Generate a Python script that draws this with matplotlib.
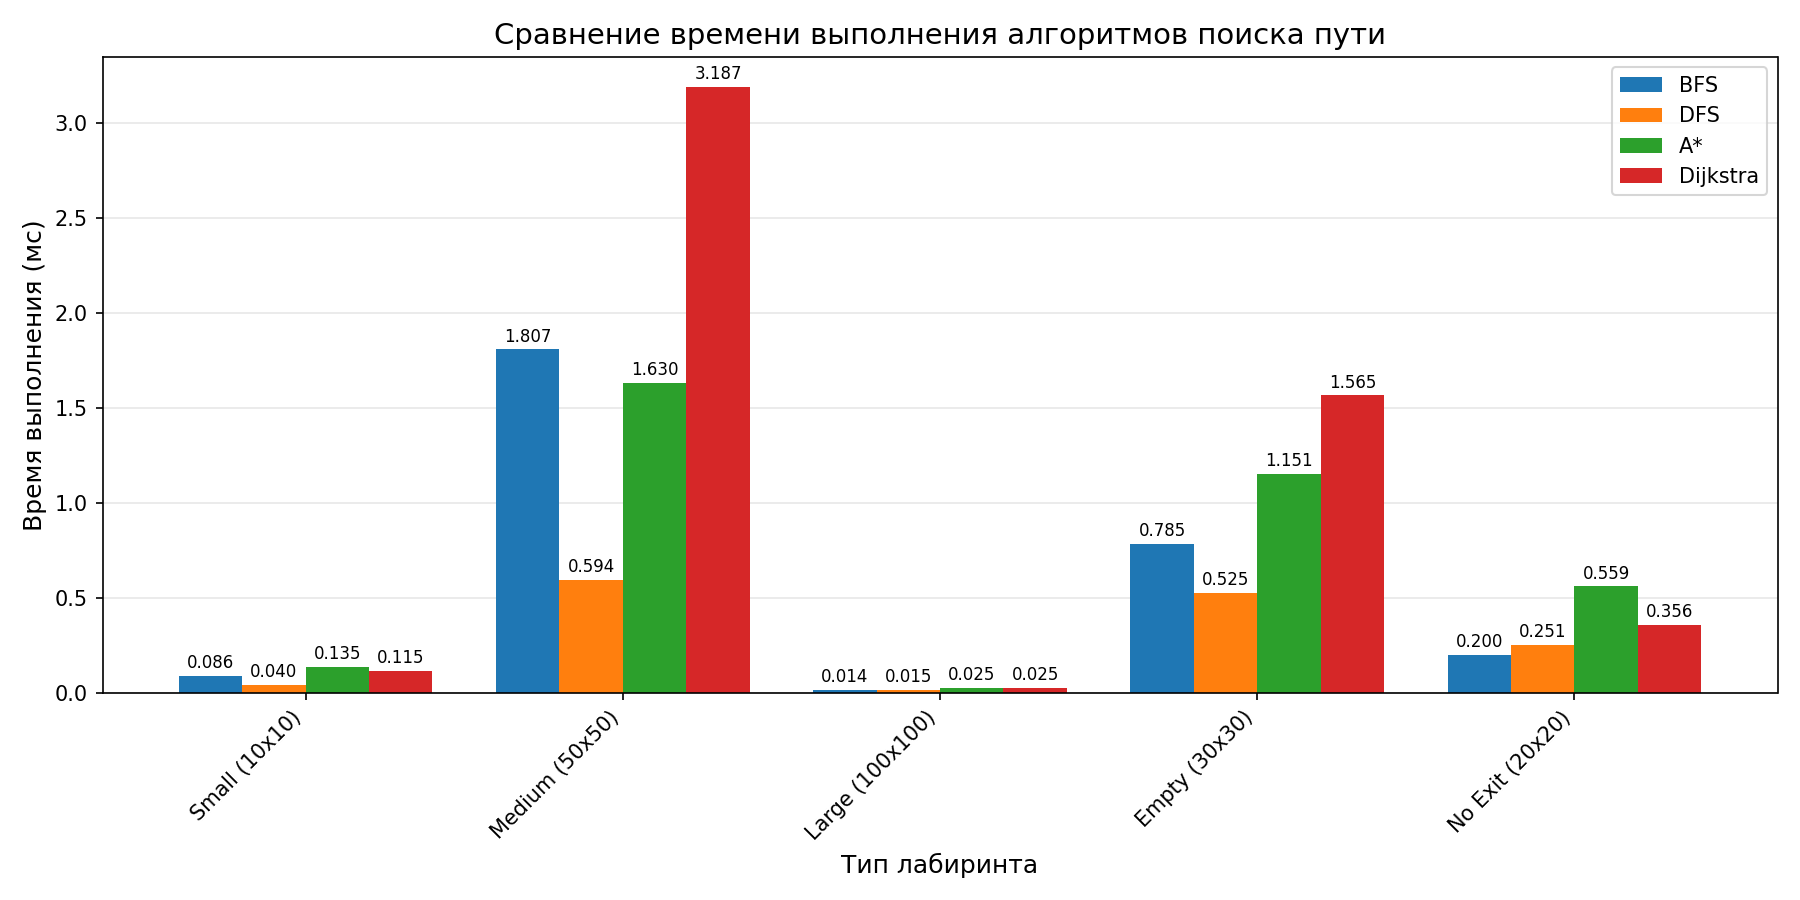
import matplotlib
matplotlib.use("Agg")
import matplotlib.pyplot as plt
import numpy as np

mazes = ["Small (10x10)", "Medium (50x50)", "Large (100x100)", "Empty (30x30)", "No Exit (20x20)"]
algorithms = ["BFS", "DFS", "A*", "Dijkstra"]
bfs_ms = [0.086, 1.807, 0.014, 0.785, 0.200]
dfs_ms = [0.040, 0.594, 0.015, 0.525, 0.251]
astar_ms = [0.135, 1.630, 0.025, 1.151, 0.559]
dijkstra_ms = [0.115, 3.187, 0.025, 1.565, 0.356]

series = [bfs_ms, dfs_ms, astar_ms, dijkstra_ms]

fig, ax = plt.subplots(figsize=(12, 6), dpi=150)
x = np.arange(len(mazes))
width = 0.2

for i, (name, values) in enumerate(zip(algorithms, series)):
    bars = ax.bar(x + (i - 1.5) * width, values, width, label=name)
    for bar, v in zip(bars, values):
        ax.text(bar.get_x() + bar.get_width() / 2, bar.get_height() + 0.02,
                f"{v:.3f}", ha="center", va="bottom", fontsize=8)

ax.set_xlabel("Тип лабиринта", fontsize=12)
ax.set_ylabel("Время выполнения (мс)", fontsize=12)
ax.set_title("Сравнение времени выполнения алгоритмов поиска пути", fontsize=14)
ax.set_xticks(x)
ax.set_xticklabels(mazes, rotation=45, ha="right")
ax.legend()
ax.grid(axis="y", alpha=0.3)
ax.set_axisbelow(True)

plt.tight_layout()
plt.savefig("out.png")
